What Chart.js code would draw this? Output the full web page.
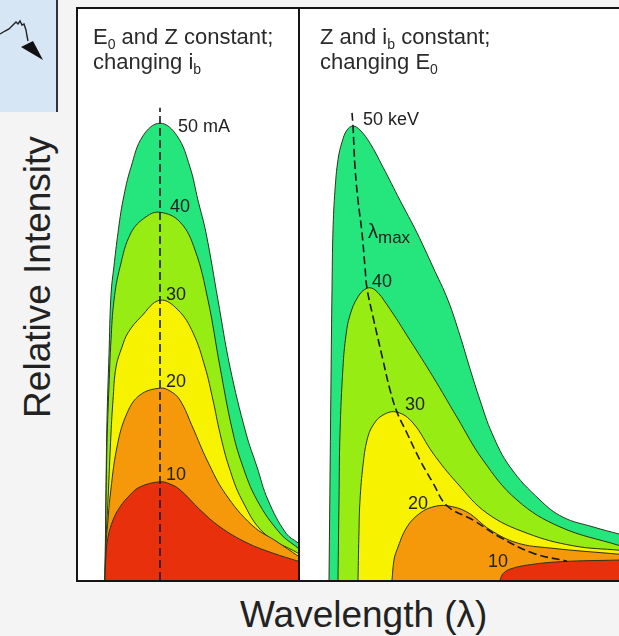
<!DOCTYPE html>
<html>
<head>
<meta charset="utf-8">
<script src="https://cdn.jsdelivr.net/npm/chart.js@4.4.1/dist/chart.umd.min.js"></script>
<style>
html,body{margin:0;padding:0;}
body{width:619px;height:636px;overflow:hidden;position:relative;background:#f4f4f4;font-family:"Liberation Sans",Arial,sans-serif;color:#222;}
.panel{position:absolute;top:7px;height:575px;box-sizing:border-box;border:2px solid #151515;background:#fff;}
#panelA{left:76px;width:224px;}
#panelB{left:298px;width:324px;}
.panel canvas{position:absolute;left:0;top:0;}
.title{position:absolute;top:15px;font-size:22px;line-height:25px;white-space:nowrap;color:#2a2a2a;}
.title sub{font-size:14px;line-height:0;vertical-align:-5px;}
#ylab{position:absolute;left:37px;top:277px;font-size:37px;line-height:37px;white-space:nowrap;transform:translate(-50%,-50%) rotate(-90deg);}
#xlab{position:absolute;left:240px;top:596px;font-size:37px;line-height:37px;white-space:nowrap;}
#blue{position:absolute;left:0;top:0;width:56px;height:112px;background:#d6e6f4;border-right:2px solid #333;}
</style>
</head>
<body>
<div id="blue">
<svg width="56" height="112">
<polyline points="0,34 5,31 9,29 13,25 16,22 18,24 20,21 22,25 24,24 26,30 27,36 28,41" fill="none" stroke="#222" stroke-width="1.4"/>
<polygon points="21,47 33,41 43,60" fill="#111"/>
</svg>
</div>
<div id="ylab">Relative Intensity</div>
<div id="xlab">Wavelength (λ)</div>
<div class="panel" id="panelA">
<canvas id="chartA" width="220" height="571"></canvas>
<div class="title" style="left:15px">E<sub>0</sub> and Z constant;<br>changing i<sub>b</sub></div>
</div>
<div class="panel" id="panelB">
<canvas id="chartB" width="320" height="571"></canvas>
<div class="title" style="left:20px">Z and i<sub>b</sub> constant;<br>changing E<sub>0</sub></div>
</div>
<script>
// left panel: E0, Z fixed, tube current 10..50 mA
const currentLabels=["10","20","30","40","50 mA"];
const lamI10=[1.35,1.40,1.50,1.75,2.10,2.60,3.10,4.10,4.60,5.10,6.10,7.10,8.45,9.75,11.0];
const intI10=[0,4.4,7.5,10.5,12.8,14.9,16.3,17.2,16.8,15.8,12.3,9.3,6.5,4.7,3.3];
const lamI20=[1.35,1.40,1.50,1.60,1.95,2.45,3.10,4.10,4.60,5.10,5.75,6.45,7.35,8.70,9.95,11.0];
const intI20=[0,6.1,10.5,14.5,23.3,29.2,32.4,33.6,33.1,31.5,26.6,21.0,15.2,9.6,6.7,4.2];
const lamI30=[1.35,1.40,1.50,1.65,1.75,1.90,2.20,2.50,3.15,4.10,5.00,5.75,6.35,6.75,7.10,7.55,8.20,9.30,11.0];
const intI30=[0,7.0,14.0,25.7,31.5,37.3,40.8,43.3,46.1,49.0,47.3,43.3,37.3,31.5,25.7,19.8,14.0,8.2,4.7];
const lamI40=[1.35,1.40,1.45,1.55,1.65,1.80,2.10,2.65,3.40,4.10,5.10,5.85,6.50,7.10,7.70,8.20,8.95,10.10,11.0];
const intI40=[0,13.0,24.0,34.0,42.0,49.0,54.8,60.8,63.6,64.4,62.7,57.8,49.0,37.3,26.5,20.3,14.0,8.2,5.6];
const lamI50=[1.35,1.40,1.45,1.55,1.65,1.80,2.00,2.25,2.65,3.25,4.10,4.95,5.60,6.00,6.40,7.00,7.60,8.40,8.95,9.50,10.40,11.0];
const intI50=[0,16.0,28.0,39.5,50.0,55.0,60.8,66.5,72.3,77.8,80.0,77.8,72.3,66.5,60.8,49.0,37.3,25.7,19.8,14.0,8.2,6.5];
const lamPeakI=[4.10,4.10];
const intPeakI=[0,82.7];

// right panel: Z, ib fixed, tube voltage 10..50 keV
const voltageLabels=["10","20","30","40","50 keV"];
const lamE10=[10.0,10.15,10.50,11.35,13.0,16.0];
const intE10=[0,1.1,1.9,2.6,3.2,3.5];
const lamE20=[4.60,4.70,4.85,5.35,6.00,6.65,7.35,8.35,9.50,10.85,12.50,16.0];
const intE20=[0,3.5,5.3,9.3,11.7,12.8,13.0,11.9,8.8,6.5,5.6,4.5];
const lamE30=[2.90,2.95,3.00,3.15,3.35,3.65,4.15,4.85,5.65,6.65,7.85,9.35,11.35,13.65,16.0];
const intE30=[0,8.8,14.0,20.1,24.5,27.1,28.9,29.4,27.5,22.2,17.0,11.7,8.2,6.0,5.2];
const lamE40=[1.90,1.95,2.00,2.15,2.30,2.50,2.90,3.35,3.75,4.35,5.50,6.65,7.85,9.15,10.85,13.0,16.0];
const intE40=[0,14.0,25.7,37.3,42.9,46.4,49.6,51.1,50.8,48.2,42.0,35.6,28.5,21.0,14.0,9.3,6.0];
const lamE50=[1.45,1.50,1.55,1.60,1.65,1.75,1.90,2.10,2.35,2.65,3.00,3.50,4.15,5.00,5.85,6.65,7.40,8.00,8.50,9.00,9.60,10.50,12.00,13.15,14.65,16.0];
const intE50=[0,17.5,35.0,50.8,61.3,68.3,73.6,76.7,78.8,79.5,78.8,76.5,72.3,66.5,60.8,54.8,49.0,42.8,37.0,31.5,25.7,19.8,14.0,11.0,9.3,8.0];
const lamMax=[2.60,2.65,2.75,2.90,3.10,3.25,3.35,3.65,4.15,4.50,4.85,5.35,6.00,6.65,7.35,8.65,10.0,11.65,13.35];
const intMax=[81.8,79.5,72.3,66.5,60.8,54.8,51.1,46.1,38.5,33.3,29.4,25.7,21.0,17.0,13.0,10.5,7.5,4.7,3.3];

const bandColors=["#e8300c","#f5990a","#f6f200","#97ec14","#24e67c"];
const FONT='"Liberation Sans", Arial, sans-serif';

const toPoints=(xs,ys)=>xs.map((x,i)=>({x:x,y:ys[i]}));

const peakOf=(xs,ys)=>{
    let i=ys.indexOf(Math.max(...ys));
    return [xs[i],ys[i]];
};

const bandDatasets=(lams,ints)=>lams.map((l,i)=>({
    data:toPoints(l,ints[i]),
    backgroundColor:bandColors[i],
    borderColor:"#2d3319",
    borderWidth:1,
    fill:"origin",
    tension:0.4,
    pointRadius:0,
    order:i+1
}));

const dashedDataset=(xs,ys,smooth)=>({
    data:toPoints(xs,ys),
    borderColor:"#1a1a1a",
    borderWidth:1.6,
    borderDash:[8,4],
    fill:false,
    pointRadius:0,
    tension:smooth?0.4:0,
    order:0
});

// text next to the curves, anchored on data points
const makeLabels=(items)=>({
    id:"curveLabels",
    afterDatasetsDraw(chart){
        const ctx=chart.ctx;
        const xs=chart.scales.x, ys=chart.scales.y;
        ctx.save();
        ctx.fillStyle="#222";
        ctx.textBaseline="middle";
        items.forEach(it=>{
            let px=xs.getPixelForValue(it.at[0])+it.dx;
            let py=ys.getPixelForValue(it.at[1])+it.dy;
            ctx.font=(it.size||18)+"px "+FONT;
            ctx.textAlign=it.align||"left";
            ctx.fillText(it.text,px,py);
            if(it.sub){
                let w=ctx.measureText(it.text).width;
                ctx.font="17px "+FONT;
                ctx.textAlign="left";
                ctx.fillText(it.sub,px+w,py+5);
            }
        });
        ctx.restore();
    }
});

const baseOptions=(xmax)=>({
    responsive:false,
    animation:false,
    layout:{padding:0},
    plugins:{legend:{display:false},tooltip:{enabled:false}},
    scales:{
        x:{type:"linear",min:0,max:xmax,display:false},
        y:{min:0,max:100,display:false}
    }
});

const lamsI=[lamI10,lamI20,lamI30,lamI40,lamI50];
const intsI=[intI10,intI20,intI30,intI40,intI50];
const labelOffI=[[6,-7],[6,-6],[6,-5],[10,-5],[18,4]];
const labelsA=currentLabels.map((t,i)=>({text:t,at:peakOf(lamsI[i],intsI[i]),dx:labelOffI[i][0],dy:labelOffI[i][1]}));

new Chart(document.getElementById("chartA"),{
    type:"line",
    data:{datasets:[dashedDataset(lamPeakI,intPeakI,false)].concat(bandDatasets(lamsI,intsI))},
    options:baseOptions(11),
    plugins:[makeLabels(labelsA)]
});

const lamsE=[lamE10,lamE20,lamE30,lamE40,lamE50];
const intsE=[intE10,intE20,intE30,intE40,intE50];
const labelsB=[
    {text:voltageLabels[0],at:[lamE10[0],intE10[0]],dx:-12,dy:-18},
    {text:voltageLabels[1],at:peakOf(lamE20,intE20),dx:-19,dy:-2,align:"right"},
    {text:voltageLabels[2],at:peakOf(lamE30,intE30),dx:8,dy:-7},
    {text:voltageLabels[3],at:peakOf(lamE40,intE40),dx:5,dy:-6},
    {text:voltageLabels[4],at:peakOf(lamE50,intE50),dx:10,dy:-6},
    {text:"λ",sub:"max",at:[lamMax[4],intMax[4]],dx:6,dy:0,size:20}
];

new Chart(document.getElementById("chartB"),{
    type:"line",
    data:{datasets:[dashedDataset(lamMax,intMax,true)].concat(bandDatasets(lamsE,intsE))},
    options:baseOptions(16),
    plugins:[makeLabels(labelsB)]
});
</script>
</body>
</html>
